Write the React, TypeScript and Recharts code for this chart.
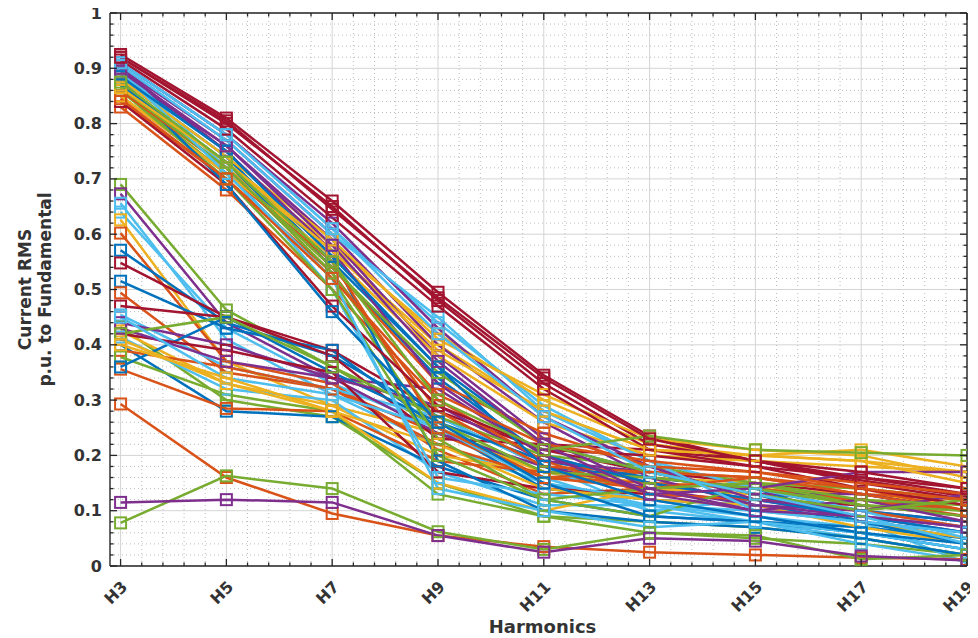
import React from 'react';
import { LineChart, Line, XAxis, YAxis, CartesianGrid } from 'recharts';

const harmonicOrders = [3, 5, 7, 9, 11, 13, 15, 17, 19];
const harmonicLabels = ['H3', 'H5', 'H7', 'H9', 'H11', 'H13', 'H15', 'H17', 'H19'];
const yTickLabels = ['0', '0.1', '0.2', '0.3', '0.4', '0.5', '0.6', '0.7', '0.8', '0.9', '1'];

const B = '#0072BD', O = '#D95319', Y = '#EDB120', P = '#7E2F8E', G = '#77AC30', L = '#4DBEEE', R = '#A2142F';

// Upper group (H3 between 0.83 and 0.93)
const upperGroup: number[][] = [
  [0.88, 0.74, 0.55, 0.36, 0.22, 0.17, 0.13, 0.08, 0.04],
  [0.83, 0.68, 0.50, 0.30, 0.19, 0.13, 0.12, 0.10, 0.07],
  [0.86, 0.72, 0.57, 0.40, 0.28, 0.21, 0.20, 0.19, 0.17],
  [0.90, 0.77, 0.60, 0.40, 0.26, 0.16, 0.11, 0.09, 0.06],
  [0.86, 0.71, 0.52, 0.23, 0.12, 0.09, 0.15, 0.11, 0.09],
  [0.91, 0.78, 0.61, 0.44, 0.29, 0.19, 0.14, 0.10, 0.05],
  [0.925, 0.81, 0.66, 0.495, 0.345, 0.235, 0.19, 0.155, 0.125],
  [0.89, 0.75, 0.56, 0.19, 0.10, 0.08, 0.07, 0.05, 0.02],
  [0.84, 0.70, 0.53, 0.28, 0.18, 0.17, 0.16, 0.13, 0.10],
  [0.87, 0.73, 0.58, 0.42, 0.30, 0.22, 0.20, 0.21, 0.18],
  [0.89, 0.76, 0.59, 0.38, 0.23, 0.14, 0.10, 0.12, 0.08],
  [0.87, 0.72, 0.53, 0.26, 0.17, 0.16, 0.14, 0.11, 0.10],
  [0.90, 0.72, 0.50, 0.16, 0.13, 0.11, 0.08, 0.04, 0.01],
  [0.92, 0.80, 0.65, 0.48, 0.33, 0.22, 0.19, 0.15, 0.12],
  [0.87, 0.73, 0.54, 0.34, 0.20, 0.15, 0.12, 0.09, 0.06],
  [0.85, 0.71, 0.55, 0.25, 0.16, 0.14, 0.16, 0.14, 0.10],
  [0.85, 0.71, 0.56, 0.38, 0.26, 0.20, 0.19, 0.18, 0.17],
  [0.91, 0.78, 0.62, 0.43, 0.27, 0.18, 0.12, 0.10, 0.13],
  [0.86, 0.70, 0.50, 0.20, 0.12, 0.14, 0.15, 0.12, 0.11],
  [0.905, 0.77, 0.60, 0.45, 0.28, 0.19, 0.10, 0.08, 0.06],
  [0.84, 0.69, 0.47, 0.29, 0.21, 0.20, 0.18, 0.14, 0.11],
  [0.88, 0.69, 0.46, 0.26, 0.15, 0.09, 0.08, 0.06, 0.03],
  [0.86, 0.72, 0.54, 0.33, 0.24, 0.18, 0.17, 0.15, 0.13],
  [0.88, 0.74, 0.59, 0.41, 0.31, 0.23, 0.21, 0.20, 0.16],
  [0.90, 0.75, 0.57, 0.33, 0.20, 0.13, 0.14, 0.17, 0.17],
  [0.865, 0.72, 0.54, 0.35, 0.22, 0.17, 0.13, 0.10, 0.12],
  [0.895, 0.71, 0.52, 0.14, 0.10, 0.07, 0.08, 0.06, 0.03],
  [0.915, 0.79, 0.63, 0.47, 0.32, 0.21, 0.18, 0.16, 0.14],
  [0.885, 0.75, 0.56, 0.36, 0.18, 0.12, 0.09, 0.06, 0.04],
  [0.845, 0.70, 0.52, 0.31, 0.22, 0.19, 0.17, 0.14, 0.12],
  [0.865, 0.73, 0.57, 0.39, 0.28, 0.21, 0.20, 0.19, 0.15],
  [0.895, 0.76, 0.58, 0.37, 0.22, 0.13, 0.10, 0.09, 0.07],
  [0.875, 0.73, 0.55, 0.30, 0.21, 0.235, 0.21, 0.205, 0.20],
  [0.91, 0.78, 0.61, 0.42, 0.27, 0.17, 0.13, 0.09, 0.04],
  [0.92, 0.805, 0.645, 0.485, 0.34, 0.23, 0.19, 0.17, 0.14],
];
const upperColors = [B, O, Y, P, G, L, R, B, O, Y, P, G, L, R, B, O, Y, P, G, L, R, B, O, Y, P, G, L, R, B, O, Y, P, G, L, R];

// Middle group (H3 between 0.35 and 0.69)
const middleGroup: number[][] = [
  [0.69, 0.463, 0.36, 0.25, 0.17, 0.14, 0.15, 0.11, 0.10],
  [0.673, 0.44, 0.34, 0.32, 0.20, 0.15, 0.12, 0.09, 0.07],
  [0.656, 0.41, 0.31, 0.22, 0.15, 0.11, 0.09, 0.07, 0.05],
  [0.64, 0.43, 0.33, 0.25, 0.16, 0.10, 0.08, 0.05, 0.02],
  [0.626, 0.37, 0.29, 0.24, 0.17, 0.15, 0.14, 0.13, 0.11],
  [0.602, 0.37, 0.33, 0.21, 0.13, 0.14, 0.13, 0.12, 0.09],
  [0.571, 0.44, 0.38, 0.27, 0.18, 0.16, 0.14, 0.08, 0.06],
  [0.548, 0.45, 0.39, 0.28, 0.21, 0.17, 0.15, 0.13, 0.10],
  [0.515, 0.43, 0.39, 0.25, 0.14, 0.12, 0.11, 0.08, 0.05],
  [0.494, 0.35, 0.32, 0.24, 0.16, 0.15, 0.14, 0.12, 0.10],
  [0.47, 0.45, 0.38, 0.23, 0.22, 0.21, 0.19, 0.16, 0.13],
  [0.454, 0.36, 0.32, 0.27, 0.18, 0.10, 0.12, 0.10, 0.07],
  [0.44, 0.40, 0.34, 0.24, 0.18, 0.14, 0.11, 0.10, 0.08],
  [0.432, 0.30, 0.27, 0.15, 0.09, 0.06, 0.05, 0.04, 0.02],
  [0.425, 0.33, 0.29, 0.20, 0.17, 0.16, 0.15, 0.14, 0.12],
  [0.414, 0.32, 0.30, 0.17, 0.11, 0.11, 0.10, 0.08, 0.005],
  [0.40, 0.28, 0.27, 0.18, 0.12, 0.09, 0.08, 0.07, 0.05],
  [0.39, 0.36, 0.32, 0.22, 0.16, 0.17, 0.16, 0.13, 0.12],
  [0.378, 0.31, 0.28, 0.13, 0.09, 0.08, 0.07, 0.05, 0.02],
  [0.356, 0.285, 0.28, 0.19, 0.17, 0.16, 0.14, 0.12, 0.10],
  [0.36, 0.45, 0.35, 0.26, 0.19, 0.16, 0.14, 0.10, 0.08],
  [0.41, 0.33, 0.28, 0.15, 0.10, 0.14, 0.13, 0.08, 0.05],
  [0.42, 0.39, 0.35, 0.17, 0.14, 0.13, 0.12, 0.11, 0.09],
  [0.43, 0.37, 0.34, 0.29, 0.19, 0.17, 0.13, 0.13, 0.10],
  [0.42, 0.45, 0.36, 0.27, 0.20, 0.18, 0.15, 0.14, 0.12],
  [0.45, 0.34, 0.31, 0.25, 0.15, 0.12, 0.09, 0.06, 0.03],
  [0.40, 0.34, 0.28, 0.22, 0.14, 0.12, 0.11, 0.07, 0.04],
];
const middleColors = [G, P, L, L, Y, O, B, R, B, O, R, L, P, G, Y, L, B, O, G, O, B, Y, R, P, G, L, Y];

// Low outliers
const lowGroup: number[][] = [
  [0.293, 0.16, 0.095, 0.055, 0.035, 0.025, 0.02, 0.015, 0.012],
  [0.078, 0.163, 0.14, 0.062, 0.03, 0.06, 0.055, 0.012, 0.02],
  [0.115, 0.12, 0.115, 0.055, 0.025, 0.05, 0.045, 0.018, 0.01],
];
const lowColors = [O, G, P];

const allSeries = [...middleGroup, ...upperGroup, ...lowGroup];
const allColors = [...middleColors, ...upperColors, ...lowColors];

const chartData = harmonicOrders.map((h, i) => {
  const row: Record<string, number> = { h };
  allSeries.forEach((s, j) => {
    row[`s${j}`] = s[i];
  });
  return row;
});

// tick positions (major + minor)
const xTickValues = Array.from({ length: 41 }, (_, k) => Math.round((3 + 0.4 * k) * 10) / 10);
const yTickValues = Array.from({ length: 51 }, (_, k) => Math.round(k * 2) / 100);
const xMinorValues = xTickValues.filter((_, k) => k % 5 !== 0);
const yMinorValues = yTickValues.filter((_, k) => k % 5 !== 0);
const yMajorValues = yTickValues.filter((_, k) => k % 5 === 0);

const AXIS = '#262626';
const TEXT = '#333333';
const FONT = '"DejaVu Sans", sans-serif';

const isXMajor = (v: number) => harmonicOrders.indexOf(v);
const yMajorIndex = (v: number) => {
  const k = Math.round(v * 50);
  return k % 5 === 0 ? k / 5 : -1;
};

const BottomTick = (props: any) => {
  const { x, y, payload } = props;
  const idx = isXMajor(payload.value);
  const major = idx >= 0;
  const tx = x + 4;
  const ty = y + 18;
  return (
    <g>
      <line x1={x} y1={y} x2={x} y2={y - (major ? 7 : 3.5)} stroke={AXIS} strokeWidth={1.3} />
      {major && (
        <text
          x={tx}
          y={ty}
          transform={`rotate(-45 ${tx} ${ty})`}
          textAnchor="end"
          dominantBaseline="central"
          fill={TEXT}
          fontFamily={FONT}
          fontWeight="bold"
          fontSize={16}
        >
          {harmonicLabels[idx]}
        </text>
      )}
    </g>
  );
};

const TopTick = (props: any) => {
  const { x, y, payload } = props;
  const major = isXMajor(payload.value) >= 0;
  return <line x1={x} y1={y} x2={x} y2={y + (major ? 7 : 3.5)} stroke={AXIS} strokeWidth={1.3} />;
};

const LeftTick = (props: any) => {
  const { x, y, payload } = props;
  const idx = yMajorIndex(payload.value);
  const major = idx >= 0;
  return (
    <g>
      <line x1={x} y1={y} x2={x + (major ? 7 : 3.5)} y2={y} stroke={AXIS} strokeWidth={1.3} />
      {major && (
        <text
          x={x - 8}
          y={y}
          textAnchor="end"
          dominantBaseline="central"
          fill={TEXT}
          fontFamily={FONT}
          fontWeight="bold"
          fontSize={16}
        >
          {yTickLabels[idx]}
        </text>
      )}
    </g>
  );
};

const RightTick = (props: any) => {
  const { x, y, payload } = props;
  const major = yMajorIndex(payload.value) >= 0;
  return <line x1={x} y1={y} x2={x - (major ? 7 : 3.5)} y2={y} stroke={AXIS} strokeWidth={1.3} />;
};

const XLabel = (props: any) => {
  const vb = props.viewBox || {};
  return (
    <text
      x={vb.x + vb.width / 2 + 4}
      y={vb.y + 67}
      textAnchor="middle"
      fill={TEXT}
      fontFamily={FONT}
      fontWeight="bold"
      fontSize={18}
    >
      Harmonics
    </text>
  );
};

const YLabel = (props: any) => {
  const vb = props.viewBox || {};
  const cy = vb.y + vb.height / 2;
  const x1 = 17;
  const x2 = 37;
  return (
    <g>
      <text
        x={x1}
        y={cy}
        transform={`rotate(-90 ${x1} ${cy})`}
        textAnchor="middle"
        dominantBaseline="central"
        fill={TEXT}
        fontFamily={FONT}
        fontWeight="bold"
        fontSize={17}
      >
        Current RMS
      </text>
      <text
        x={x2}
        y={cy}
        transform={`rotate(-90 ${x2} ${cy})`}
        textAnchor="middle"
        dominantBaseline="central"
        fill={TEXT}
        fontFamily={FONT}
        fontWeight="bold"
        fontSize={17}
      >
        p.u. to Fundamental
      </text>
    </g>
  );
};

const makeDot = (color: string) => (p: any) => (
  <rect
    key={`d-${p.index}`}
    x={p.cx - 5.5}
    y={p.cy - 5.5}
    width={11}
    height={11}
    fill="none"
    stroke={color}
    strokeWidth={2}
  />
);

export default function App() {
  return (
    <div style={{ width: 970, height: 630, background: '#fff' }}>
      <style>{`.recharts-surface{overflow:visible}`}</style>
      <LineChart
        width={970}
        height={630}
        data={chartData}
        margin={{ top: 4, right: 10, bottom: 0, left: 0 }}
      >
        <CartesianGrid
          horizontalValues={yMinorValues}
          verticalValues={xMinorValues}
          stroke="#bcbcbc"
          strokeDasharray="1 3"
          strokeWidth={1}
        />
        <CartesianGrid
          horizontalValues={yMajorValues}
          verticalValues={harmonicOrders}
          stroke="#d4d4d4"
          strokeWidth={1}
        />
        <XAxis
          dataKey="h"
          type="number"
          domain={[2.8, 19]}
          allowDataOverflow
          ticks={xTickValues}
          interval={0}
          tickSize={0}
          tickMargin={0}
          tickLine={false}
          axisLine={{ stroke: AXIS, strokeWidth: 1.4 }}
          tick={BottomTick}
          height={72}
          label={<XLabel />}
        />
        <XAxis
          xAxisId="top"
          orientation="top"
          dataKey="h"
          type="number"
          domain={[2.8, 19]}
          allowDataOverflow
          ticks={xTickValues}
          interval={0}
          tickSize={0}
          tickMargin={0}
          tickLine={false}
          axisLine={{ stroke: AXIS, strokeWidth: 1.4 }}
          tick={TopTick}
          height={1}
        />
        <YAxis
          type="number"
          domain={[0, 1]}
          allowDataOverflow
          ticks={yTickValues}
          interval={0}
          tickSize={0}
          tickMargin={0}
          tickLine={false}
          axisLine={{ stroke: AXIS, strokeWidth: 1.4 }}
          tick={LeftTick}
          width={102}
          label={<YLabel />}
        />
        <YAxis
          yAxisId="right"
          orientation="right"
          type="number"
          domain={[0, 1]}
          allowDataOverflow
          ticks={yTickValues}
          interval={0}
          tickSize={0}
          tickMargin={0}
          tickLine={false}
          axisLine={{ stroke: AXIS, strokeWidth: 1.4 }}
          tick={RightTick}
          width={1}
        />
        {allSeries.map((_, j) => (
          <Line
            key={`s${j}`}
            dataKey={`s${j}`}
            type="linear"
            stroke={allColors[j]}
            strokeWidth={2.5}
            dot={makeDot(allColors[j])}
            activeDot={false}
            isAnimationActive={false}
          />
        ))}
      </LineChart>
    </div>
  );
}
